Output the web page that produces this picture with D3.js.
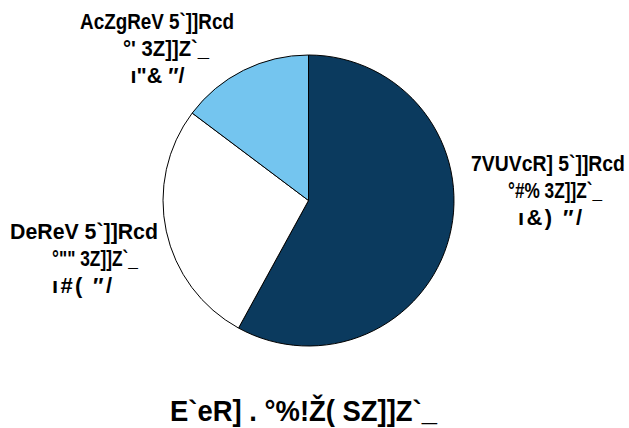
<!DOCTYPE html>
<html>
<head>
<meta charset="utf-8">
<script src="https://cdn.jsdelivr.net/npm/d3@7"></script>
<style>
  html, body { margin: 0; padding: 0; background: #ffffff; }
  svg text { font-family: "Liberation Sans Narrow", "Liberation Sans", Arial, sans-serif; font-weight: bold; fill: #000; }
</style>
</head>
<body>
<svg id="chart" width="629" height="428"></svg>
<script>
// Funding sources (billions of dollars), drawn clockwise from 12 o'clock
const categories = ["7VUVcR] 5`]]Rcd", "DeReV 5`]]Rcd", "AcZgReV 5`]]Rcd"];
const values = [23.6, 11.1, 6.0];
const amountLabels = ["°#% 3Z]]Z`_", "°\"\" 3Z]]Z`_", "°' 3Z]]Z`_"];
const shareLabels = ["ı&) ″/", "ı#( ″/", "ı\"& ″/"];
const sliceColors = ["#0b3a5e", "#ffffff", "#74c5ef"];
const title = "E`eR] . °%!Ž( SZ]]Z`_";

const svg = d3.select("#chart");
const cx = 308.5, cy = 200.5, radius = 145.5;

const pie = d3.pie().sort(null).value(d => d);
const arc = d3.arc().innerRadius(0).outerRadius(radius);
const arcs = pie(values);

const g = svg.append("g").attr("transform", `translate(${cx},${cy})`);
g.selectAll("path")
  .data(arcs)
  .join("path")
  .attr("d", arc)
  .attr("fill", (d, i) => sliceColors[i])
  .attr("stroke", "#000")
  .attr("stroke-width", 1);

// Draws a text centred on mx at baseline y, fitted to width w:
// condensed by a horizontal scale when too wide, letter-spaced when too narrow.
function fittedText(s, mx, y, w, size) {
  const t = svg.append("text")
    .attr("font-size", size)
    .attr("text-anchor", "middle")
    .text(s);
  const natural = t.node().getComputedTextLength();
  if (natural > w) {
    t.attr("transform", `translate(${mx},${y}) scale(${w / natural},1)`);
  } else {
    t.attr("x", mx - w / 2)
      .attr("y", y)
      .attr("text-anchor", "start")
      .attr("textLength", w)
      .attr("lengthAdjust", "spacing");
  }
  return t;
}

// Label layout: centre x and target width of each line, first baseline of each block.
const labelLayout = [
  { y: 171, lines: [[548, 154], [555, 94], [550, 64]] },
  { y: 239, lines: [[84, 148], [95, 86], [82, 60]] },
  { y: 29,  lines: [[157, 154], [166, 86], [157.5, 54]] }
];
const lineGap = 27;

categories.forEach((name, i) => {
  const lay = labelLayout[i];
  [name, amountLabels[i], shareLabels[i]].forEach((s, k) => {
    const [mx, w] = lay.lines[k];
    fittedText(s, mx, lay.y + k * lineGap, w, 22);
  });
});

fittedText(title, 303.5, 421, 267, 29);
</script>
</body>
</html>
